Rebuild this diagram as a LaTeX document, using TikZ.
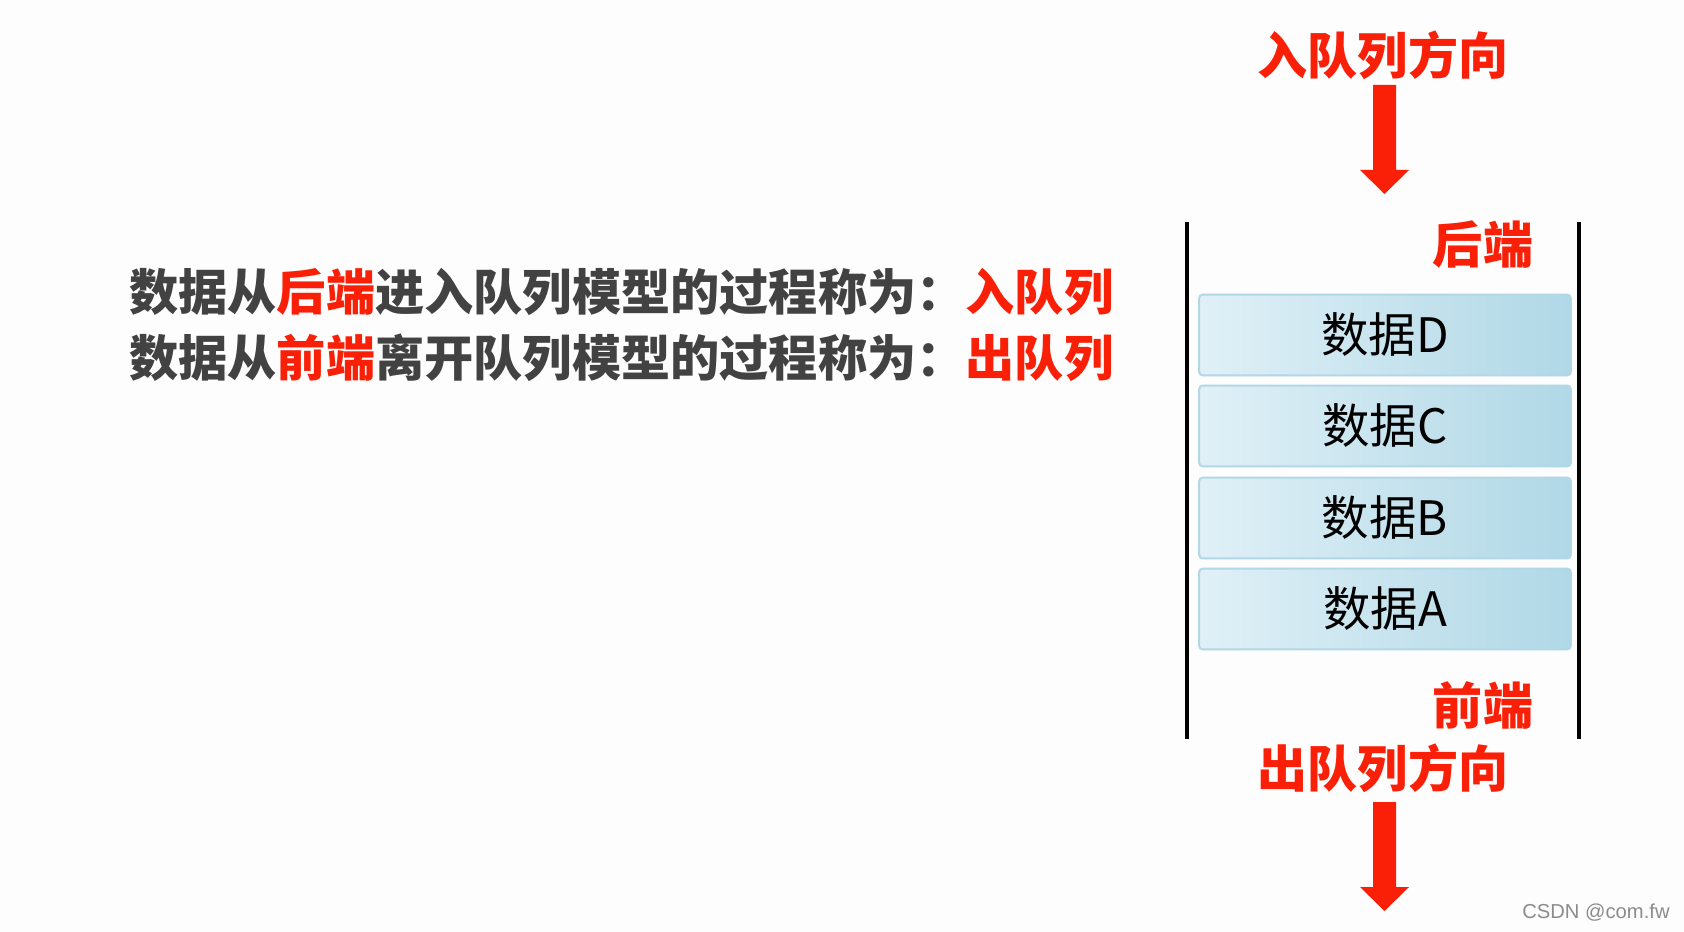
\documentclass[tikz,border=0pt]{standalone}
\usepackage{fontspec}
\newfontfamily\cjk{Noto Sans CJK SC}
\newfontfamily\wmfont{Liberation Sans}
\usepackage{tikz}
\usetikzlibrary{positioning,calc}

\definecolor{qred}{RGB}{250,32,8}
\definecolor{qgray}{RGB}{66,66,66}
\definecolor{boxlight}{RGB}{224,240,247}
\definecolor{boxdark}{RGB}{176,216,230}
\definecolor{boxedge}{RGB}{178,215,230}
\definecolor{bgwhite}{RGB}{252,253,252}

\tikzset{
  databox/.style={rectangle, rounded corners=0.08cm, draw=boxedge, line width=0.04cm,
    left color=boxlight, right color=boxdark, minimum width=7.44cm, minimum height=1.62cm,
    font=\cjk\fontsize{27}{27}\selectfont, text=black, inner sep=0},
  redlabel/.style={inner sep=0, text=qred, font=\cjk\bfseries\fontsize{28.5}{28.5}\selectfont},
  sentence/.style={inner sep=0, anchor=west, text=qgray, font=\cjk\bfseries\fontsize{28}{28}\selectfont},
}

\begin{document}
\begin{tikzpicture}[x=0.02cm, y=-0.02cm]
  % Canvas
  \fill[bgwhite] (0,0) rectangle (1684,932);
  \useasboundingbox (0,0) rectangle (1684,932);
  % Coordinates
  \coordinate (LT) at (1187,222);
  \coordinate (LB) at (1187,739);
  \coordinate (RT) at (1579,222);
  \coordinate (RB) at (1579,739);
  % Queue walls
  \draw[line width=0.08cm] (LT) -- (LB);
  \draw[line width=0.08cm] (RT) -- (RB);
  % Data boxes
  \foreach \name/\y in {D/335, C/426, B/518, A/609} {
    \node[databox] (box\name) at (1385,\y) {数据\name};
  }
  % Labels
  \node[redlabel] (inlabel) at (1383,55) {入队列方向};
  \node[redlabel] (outlabel) at (1383,768) {出队列方向};
  \node[redlabel] (rear) at (1483,245) {后端};
  \node[redlabel] (front) at (1483,705) {前端};
  % Direction arrows
  \foreach \y in {85, 802} {
    \fill[qred] (1373,\y) -- (1396,\y) -- (1396,\y+85) -- (1409,\y+85)
      -- (1384.5,\y+109) -- (1360,\y+85) -- (1373,\y+85) -- cycle;
  }
  % Explanation
  \node[sentence] (lineone) at (129,292)
    {数据从\textcolor{qred}{后端}进入队列模型的过程称为：\textcolor{qred}{入队列}};
  \node[sentence] (linetwo) at (129,358)
    {数据从\textcolor{qred}{前端}离开队列模型的过程称为：\textcolor{qred}{出队列}};
  % Watermark
  \node[inner sep=0, anchor=east, text=black!45, font=\wmfont\fontsize{11.5}{11.5}\selectfont]
    (mark) at (1670,913) {CSDN @com.fw};
\end{tikzpicture}
\end{document}
